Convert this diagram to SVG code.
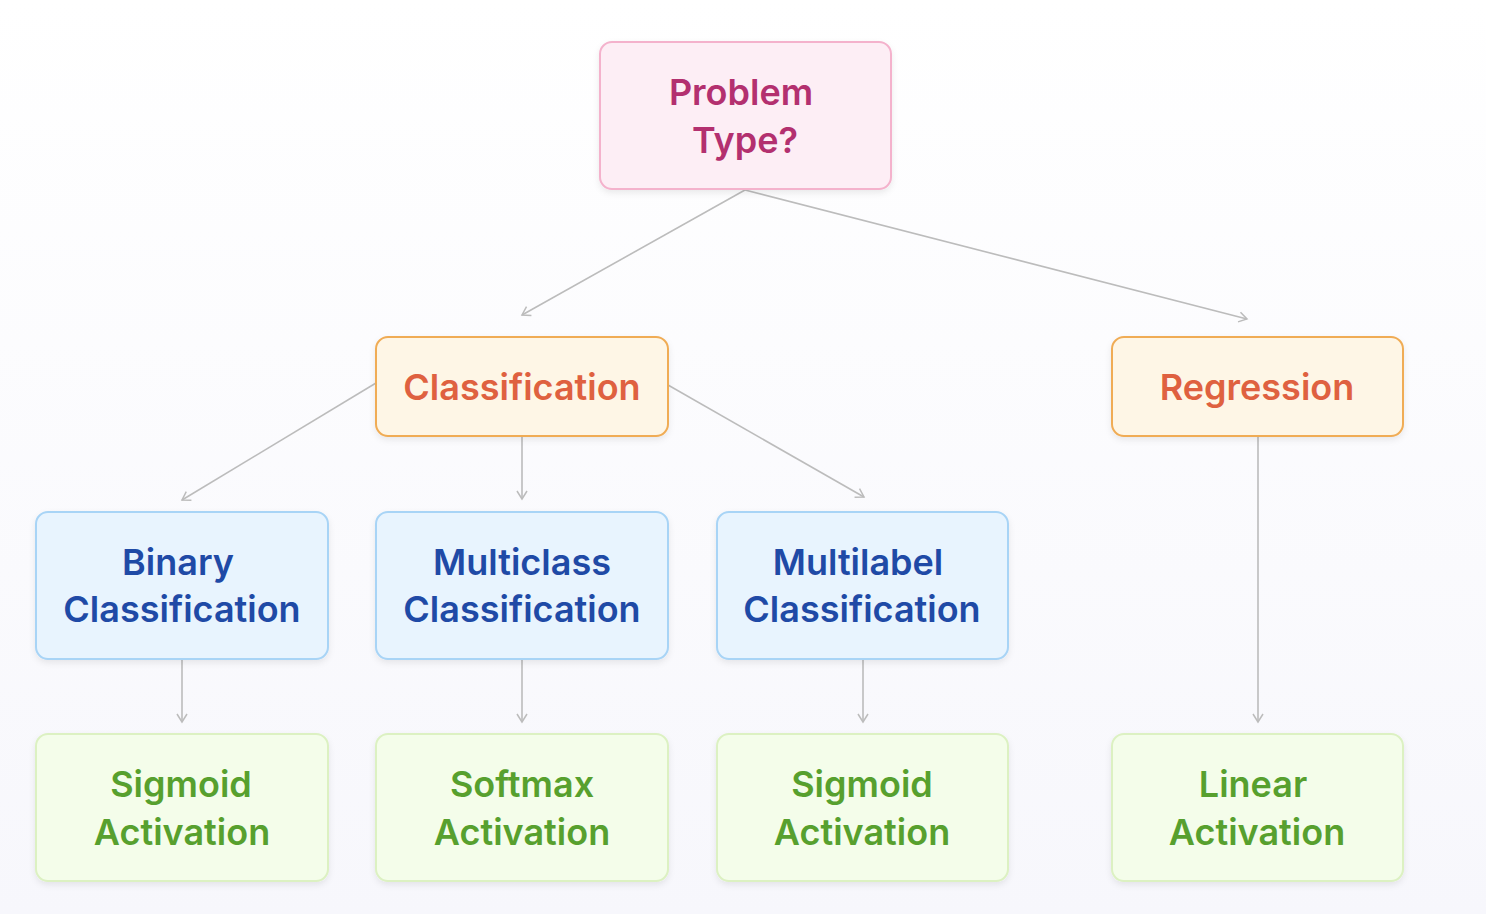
<svg xmlns="http://www.w3.org/2000/svg" width="1486" height="914" viewBox="0 0 1486 914">
<defs>
<linearGradient id="bg" x1="0" y1="0" x2="0" y2="1">
<stop offset="0" stop-color="#ffffff"/>
<stop offset="1" stop-color="#f7f7fc"/>
</linearGradient>
<filter id="sh" x="-10%" y="-10%" width="120%" height="130%">
<feDropShadow dx="0" dy="3" stdDeviation="3" flood-color="#000" flood-opacity="0.08"/>
</filter>
<marker id="ar" viewBox="0 0 12 12" refX="10" refY="6" markerWidth="12" markerHeight="12" markerUnits="userSpaceOnUse" orient="auto">
<path d="M2,1 L10,6 L2,11" fill="none" stroke="#bcbcbc" stroke-width="1.5"/>
</marker>
</defs>
<style>
.t{font-family:Inter,"Noto Sans",sans-serif;font-weight:600;font-size:36px;text-anchor:middle}
.pink rect{fill:#fdeef5;stroke:#f4b2cc}
.pink text{fill:#b3306f}
.orange rect{fill:#fef6e6;stroke:#f0ac55}
.orange text{fill:#df6140}
.blue rect{fill:#e8f4fe;stroke:#a8d4f6}
.blue text{fill:#1f4aa6}
.green rect{fill:#f4fdea;stroke:#dcf1c2}
.green text{fill:#57a02e}
rect{stroke-width:2;filter:url(#sh)}
.c line{stroke:#bcbcbc;stroke-width:1.6;marker-end:url(#ar)}
</style>
<rect x="0" y="0" width="1486" height="914" fill="url(#bg)" style="filter:none;stroke:none"/>
<g class="c" id="connectors">
<line x1="745" y1="190" x2="522" y2="315"/>
<line x1="745" y1="190" x2="1247" y2="319"/>
<line x1="376" y1="383" x2="182" y2="500"/>
<line x1="522" y1="436" x2="522" y2="499"/>
<line x1="668" y1="385" x2="864" y2="497"/>
<line x1="182" y1="659" x2="182" y2="722"/>
<line x1="522" y1="659" x2="522" y2="722"/>
<line x1="863" y1="659" x2="863" y2="722"/>
<line x1="1258" y1="436" x2="1258" y2="722"/>
</g>
<g id="problem" class="pink">
<rect x="600" y="42" width="291" height="147" rx="12"/>
<text class="t" x="741" y="105">Problem</text>
<text class="t" x="745" y="153">Type?</text>
</g>
<g id="classification" class="orange">
<rect x="376" y="337" width="292" height="99" rx="12"/>
<text class="t" x="522" y="400">Classification</text>
</g>
<g id="regression" class="orange">
<rect x="1112" y="337" width="291" height="99" rx="12"/>
<text class="t" x="1257" y="400">Regression</text>
</g>
<g id="binary" class="blue">
<rect x="36" y="512" width="292" height="147" rx="12"/>
<text class="t" x="178" y="575">Binary</text>
<text class="t" x="182" y="622">Classification</text>
</g>
<g id="multiclass" class="blue">
<rect x="376" y="512" width="292" height="147" rx="12"/>
<text class="t" x="522" y="575">Multiclass</text>
<text class="t" x="522" y="622">Classification</text>
</g>
<g id="multilabel" class="blue">
<rect x="717" y="512" width="291" height="147" rx="12"/>
<text class="t" x="858" y="575">Multilabel</text>
<text class="t" x="862" y="622">Classification</text>
</g>
<g id="sigmoid1" class="green">
<rect x="36" y="734" width="292" height="147" rx="12"/>
<text class="t" x="181" y="797">Sigmoid</text>
<text class="t" x="182" y="845">Activation</text>
</g>
<g id="softmax" class="green">
<rect x="376" y="734" width="292" height="147" rx="12"/>
<text class="t" x="522" y="797">Softmax</text>
<text class="t" x="522" y="845">Activation</text>
</g>
<g id="sigmoid2" class="green">
<rect x="717" y="734" width="291" height="147" rx="12"/>
<text class="t" x="862" y="797">Sigmoid</text>
<text class="t" x="862" y="845">Activation</text>
</g>
<g id="linear" class="green">
<rect x="1112" y="734" width="291" height="147" rx="12"/>
<text class="t" x="1253" y="797">Linear</text>
<text class="t" x="1257" y="845">Activation</text>
</g>
</svg>
